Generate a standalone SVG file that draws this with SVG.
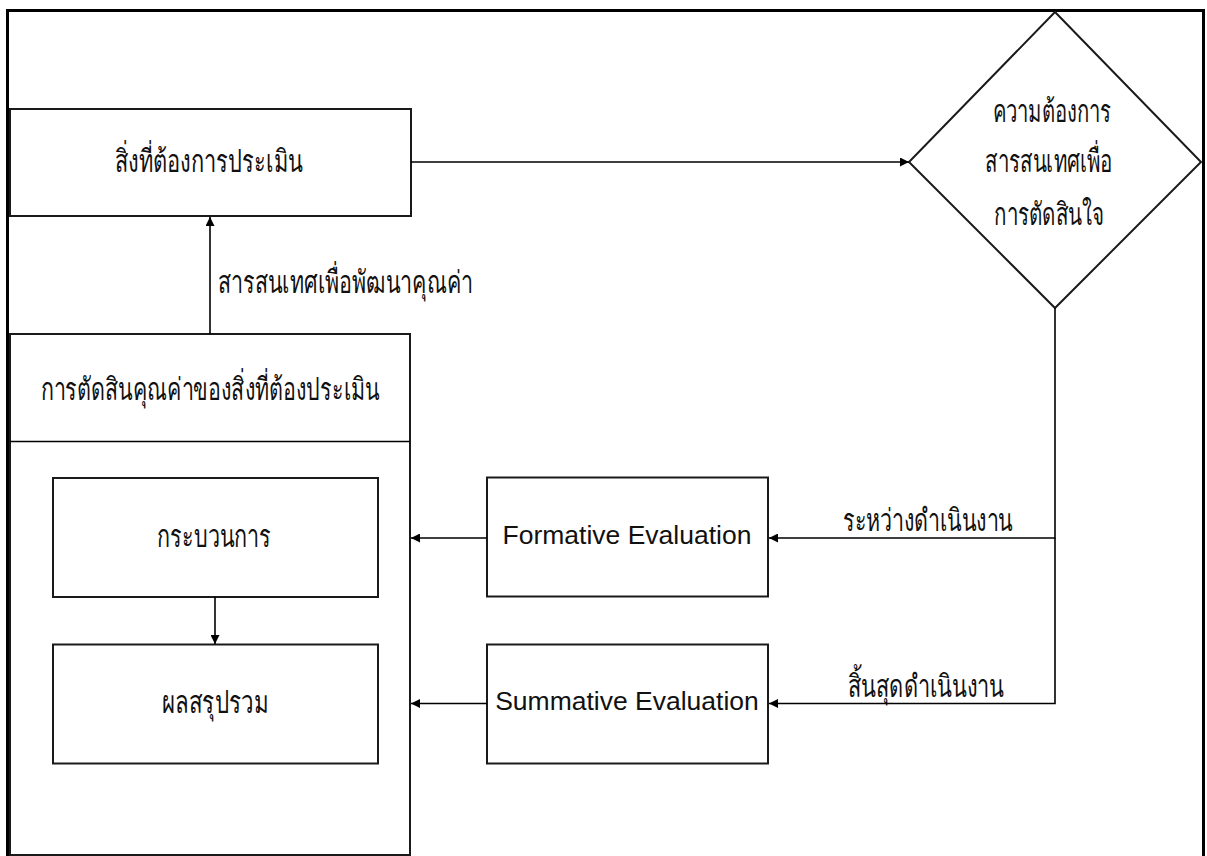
<svg xmlns="http://www.w3.org/2000/svg" width="1207" height="856" viewBox="0 0 1207 856">
<defs>
<marker id="ah" viewBox="0 0 10 10" refX="10" refY="5" markerWidth="10" markerHeight="9" markerUnits="userSpaceOnUse" orient="auto">
<path d="M0,0 L10,5 L0,10 z" fill="#000"/>
</marker>
<style>
.box{fill:#fff;stroke:#1a1a1a;stroke-width:2}
.th{font-family:"Noto Sans","DejaVu Sans",sans-serif;font-size:31px;fill:#111;text-anchor:middle}
.en{font-family:"Liberation Sans",Arial,sans-serif;font-size:26.5px;fill:#111;text-anchor:middle}
.ln{fill:none;stroke:#000;stroke-width:1.6}
</style>
</defs>
<rect width="1207" height="856" fill="#fff"/>
<path d="M7.5,860 V10.5 H1203.5 V860" fill="none" stroke="#000" stroke-width="3"/>
<g id="n1"><rect class="box" x="10" y="109" width="401" height="107"/>
<text class="th" x="209" y="172" textLength="188" lengthAdjust="spacingAndGlyphs">สิ่งที่ต้องการประเมิน</text></g>
<g id="n2"><rect class="box" x="10" y="334" width="400" height="521"/>
<line class="ln" x1="10" y1="441.5" x2="410" y2="441.5" stroke-width="2"/>
<text class="th" x="210" y="400" textLength="339" lengthAdjust="spacingAndGlyphs">การตัดสินคุณค่าของสิ่งที่ต้องประเมิน</text></g>
<g id="n3"><rect class="box" x="53" y="478" width="325" height="119"/>
<text class="th" x="214" y="547" textLength="114" lengthAdjust="spacingAndGlyphs">กระบวนการ</text></g>
<g id="n4"><rect class="box" x="53" y="644.5" width="325" height="119"/>
<text class="th" x="215" y="713" textLength="106" lengthAdjust="spacingAndGlyphs">ผลสรุปรวม</text></g>
<g id="n5"><polygon class="box" points="1055,12 1201,162 1055,308 909,162"/>
<text class="th" x="1052" y="122" textLength="119" lengthAdjust="spacingAndGlyphs">ความต้องการ</text>
<text class="th" x="1049" y="172" textLength="128" lengthAdjust="spacingAndGlyphs">สารสนเทศเพื่อ</text>
<text class="th" x="1049" y="225" textLength="110" lengthAdjust="spacingAndGlyphs">การตัดสินใจ</text></g>
<g id="n6"><rect class="box" x="487" y="477.5" width="281" height="119"/>
<text class="en" x="627" y="544">Formative Evaluation</text></g>
<g id="n7"><rect class="box" x="487" y="644.5" width="281" height="119"/>
<text class="en" x="627" y="710">Summative Evaluation</text></g>
<g id="connectors">
<line class="ln" x1="411" y1="162" x2="909" y2="162" marker-end="url(#ah)"/>
<line class="ln" x1="210" y1="334" x2="210" y2="217" marker-end="url(#ah)"/>
<line class="ln" x1="215" y1="597" x2="215" y2="644" marker-end="url(#ah)"/>
<polyline class="ln" points="1055,308 1055,538 769,538" marker-end="url(#ah)"/>
<polyline class="ln" points="1055,538 1055,703.5 769,703.5" marker-end="url(#ah)"/>
<line class="ln" x1="487" y1="538" x2="411" y2="538" marker-end="url(#ah)"/>
<line class="ln" x1="487" y1="703.5" x2="411" y2="703.5" marker-end="url(#ah)"/>
<text class="th" x="218" y="293" style="text-anchor:start" textLength="255" lengthAdjust="spacingAndGlyphs">สารสนเทศเพื่อพัฒนาคุณค่า</text>
<text class="th" x="928" y="531" textLength="170" lengthAdjust="spacingAndGlyphs">ระหว่างดำเนินงาน</text>
<text class="th" x="926" y="697" textLength="156" lengthAdjust="spacingAndGlyphs">สิ้นสุดดำเนินงาน</text>
</g>
</svg>
